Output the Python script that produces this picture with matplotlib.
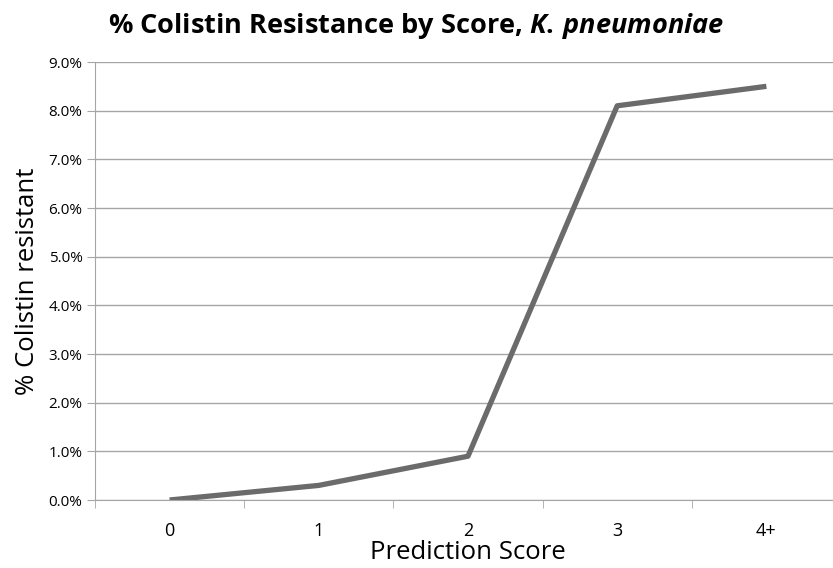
import matplotlib.pyplot as plt
from matplotlib.ticker import FuncFormatter, FixedLocator

categories = ["0", "1", "2", "3", "4+"]
resistant_pct = [0.0, 0.3, 0.9, 8.1, 8.5]

plt.rcParams["font.family"] = ["Open Sans", "DejaVu Sans"]
plt.rcParams["mathtext.fontset"] = "custom"
plt.rcParams["mathtext.it"] = "Open Sans:italic:bold"
plt.rcParams["mathtext.rm"] = "Open Sans:bold"

fig = plt.figure(figsize=(8.33, 5.68), dpi=100)
ax = fig.add_axes([95 / 833, 68 / 568, 746 / 833, 438 / 568])

x = list(range(len(categories)))
ax.plot(x, resistant_pct, color="#6b6b6b", linewidth=3.8, solid_capstyle="butt")

ax.set_xlim(-0.5, len(categories) - 0.5)
ax.set_ylim(0, 9)
ax.set_yticks([i for i in range(10)])
ax.yaxis.set_major_formatter(FuncFormatter(lambda v, p: f"{v:.1f}%"))
ax.grid(axis="y", color="#a6a6a6", linewidth=1)
ax.set_axisbelow(True)

ax.set_xticks(x)
ax.set_xticklabels(categories)
ax.xaxis.set_minor_locator(FixedLocator([i - 0.5 for i in range(len(categories) + 1)]))
ax.tick_params(axis="x", which="major", length=0, pad=16, labelsize=13)
ax.tick_params(axis="x", which="minor", length=6, color="#a6a6a6", direction="out")
ax.tick_params(axis="y", length=6, color="#a6a6a6", labelsize=11, pad=3)

for side in ["top", "right"]:
    ax.spines[side].set_visible(False)
for side in ["left", "bottom"]:
    ax.spines[side].set_color("#a6a6a6")

ax.set_xlabel("Prediction Score", fontsize=18.5, labelpad=0)
ax.set_ylabel("% Colistin resistant", fontsize=18.5, labelpad=6)
fig.text(0.5, 0.955, "% Colistin Resistance by Score, $\\it{K.\\,pneumoniae}$",
         ha="center", va="center", fontsize=19.5, fontweight="bold")

fig.savefig("out.png", dpi=100)
